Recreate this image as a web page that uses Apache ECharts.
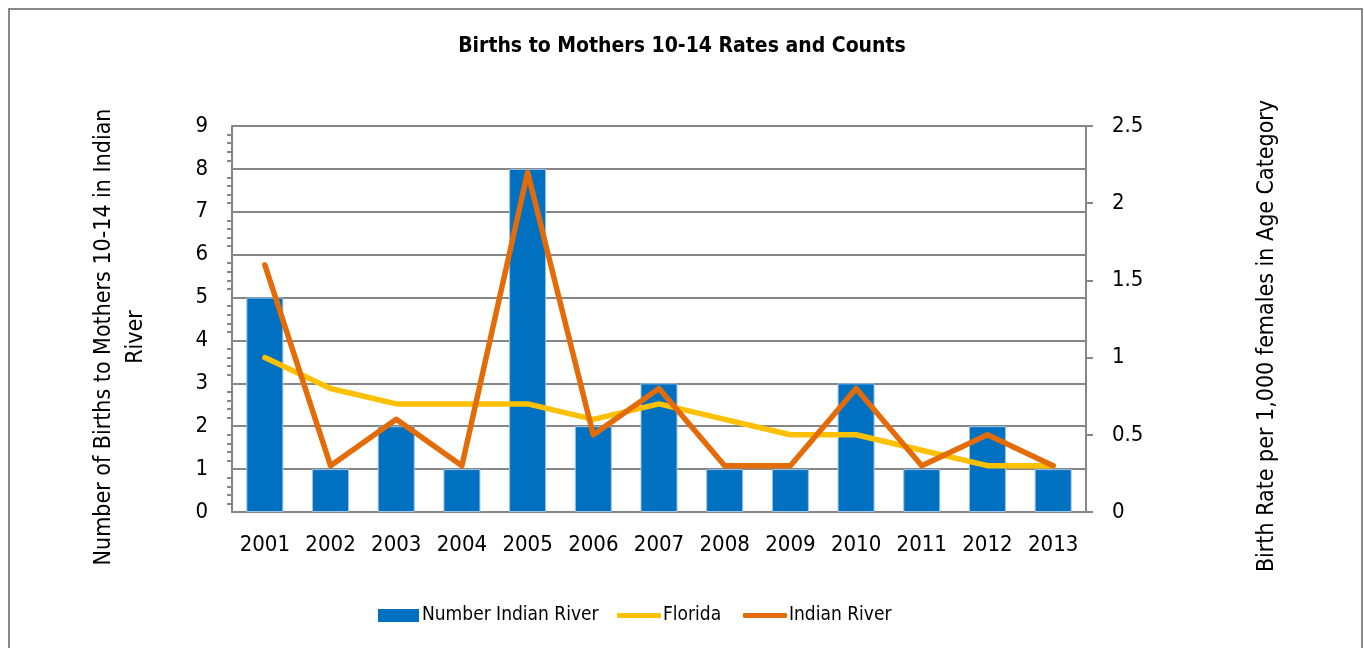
<!DOCTYPE html>
<html>
<head>
	<meta charset="utf-8">
	<title>Births to Mothers 10-14 Rates and Counts</title>
	<script src="https://cdn.jsdelivr.net/npm/echarts@6/dist/echarts.min.js"></script>
	<style>
		html, body { margin: 0; padding: 0; background: #fff; }
		#chart { width: 1364px; height: 648px; }
	</style>
</head>
<body>
	<div id="chart"></div>
	<script>
		var years = ['2001', '2002', '2003', '2004', '2005', '2006', '2007', '2008', '2009', '2010', '2011', '2012', '2013'];
		var countIndianRiver = [5, 1, 2, 1, 8, 2, 3, 1, 1, 3, 1, 2, 1];
		var rateFlorida = [1.0, 0.8, 0.7, 0.7, 0.7, 0.6, 0.7, 0.6, 0.5, 0.5, 0.4, 0.3, 0.3];
		var rateIndianRiver = [1.6, 0.3, 0.6, 0.3, 2.2, 0.5, 0.8, 0.3, 0.3, 0.8, 0.3, 0.5, 0.3];

		var font = '"Liberation Sans Narrow", "DejaVu Sans Condensed", "Liberation Sans", sans-serif';
		var axisGray = '#868686';

		var chart = echarts.init(document.getElementById('chart'));
		var option = {
			animation: false,
			textStyle: { fontFamily: font, color: '#000' },
			title: {
				text: 'Births to Mothers 10-14 Rates and Counts',
				left: 'center',
				top: 31,
				textStyle: { fontFamily: font, fontSize: 21, fontWeight: 'bold', color: '#000' }
			},
			graphic: [{
				type: 'rect',
				shape: { x: 9, y: 9, width: 1353, height: 660 },
				style: { fill: 'none', stroke: '#888', lineWidth: 2 },
				silent: true
			}],
			legend: [
				{
					data: ['Number Indian River'],
					left: 373, top: 601,
					icon: 'rect', itemWidth: 41, itemHeight: 13, itemGap: 4,
					itemStyle: { borderWidth: 0 },
					textStyle: { fontFamily: font, fontSize: 19, color: '#000', padding: [0, 0, 0, -2] }
				},
				{
					data: ['Florida'],
					left: 612, top: 601,
					icon: 'roundRect', itemWidth: 44, itemHeight: 5,
					textStyle: { fontFamily: font, fontSize: 19, color: '#000', padding: [0, 0, 0, -3] }
				},
				{
					data: ['Indian River'],
					left: 738, top: 601,
					icon: 'roundRect', itemWidth: 44, itemHeight: 5,
					textStyle: { fontFamily: font, fontSize: 19, color: '#000', padding: [0, 0, 0, -3] }
				}
			],
			grid: { left: 232, right: 278, top: 126, bottom: 136 },
			xAxis: {
				type: 'category',
				data: years,
				axisLine: { lineStyle: { color: axisGray, width: 2 } },
				axisTick: { show: false },
				axisLabel: { fontFamily: font, fontSize: 22, color: '#000', margin: 22 }
			},
			yAxis: [
				{
					type: 'value',
					min: 0, max: 9, interval: 1,
					name: 'Number of Births to Mothers 10-14 in Indian\nRiver',
					nameLocation: 'middle',
					nameGap: 80,
					nameRotate: 90,
					nameTextStyle: { fontFamily: font, fontSize: 23, color: '#000', lineHeight: 32, padding: [0, 36, 0, 0] },
					axisLine: { show: true, lineStyle: { color: axisGray, width: 2 } },
					axisTick: { show: false },
					minorTick: { show: true, splitNumber: 5, length: 5, lineStyle: { color: axisGray, width: 2 } },
					axisLabel: { fontFamily: font, fontSize: 22, color: '#000', margin: 24 },
					splitLine: { lineStyle: { color: axisGray, width: 2 } }
				},
				{
					type: 'value',
					min: 0, max: 2.5, interval: 0.5,
					position: 'right',
					name: 'Birth Rate per 1,000 females in Age Category',
					nameLocation: 'middle',
					nameGap: 170,
					nameRotate: 90,
					nameTextStyle: { fontFamily: font, fontSize: 23, color: '#000', padding: [0, 34, 0, 0] },
					axisLine: { show: true, lineStyle: { color: axisGray, width: 2 } },
					axisTick: { show: true, inside: false, length: 7, lineStyle: { color: axisGray, width: 2 } },
					axisLabel: { fontFamily: font, fontSize: 22, color: '#000', margin: 26 },
					splitLine: { show: false }
				}
			],
			series: [
				{
					name: 'Number Indian River',
					type: 'bar',
					yAxisIndex: 0,
					barWidth: 37,
					itemStyle: { color: '#0070C0', borderColor: '#9dc3e6', borderWidth: 1 },
					data: countIndianRiver
				},
				{
					name: 'Florida',
					type: 'line',
					yAxisIndex: 1,
					symbol: 'none',
					itemStyle: { color: '#FFC000' },
					lineStyle: { color: '#FFC000', width: 5.5, cap: 'round', join: 'round' },
					data: rateFlorida
				},
				{
					name: 'Indian River',
					type: 'line',
					yAxisIndex: 1,
					symbol: 'none',
					itemStyle: { color: '#E36C09' },
					lineStyle: { color: '#E36C09', width: 5.5, cap: 'round', join: 'round' },
					data: rateIndianRiver
				}
			]
		};
		chart.setOption(option);
	</script>
</body>
</html>
